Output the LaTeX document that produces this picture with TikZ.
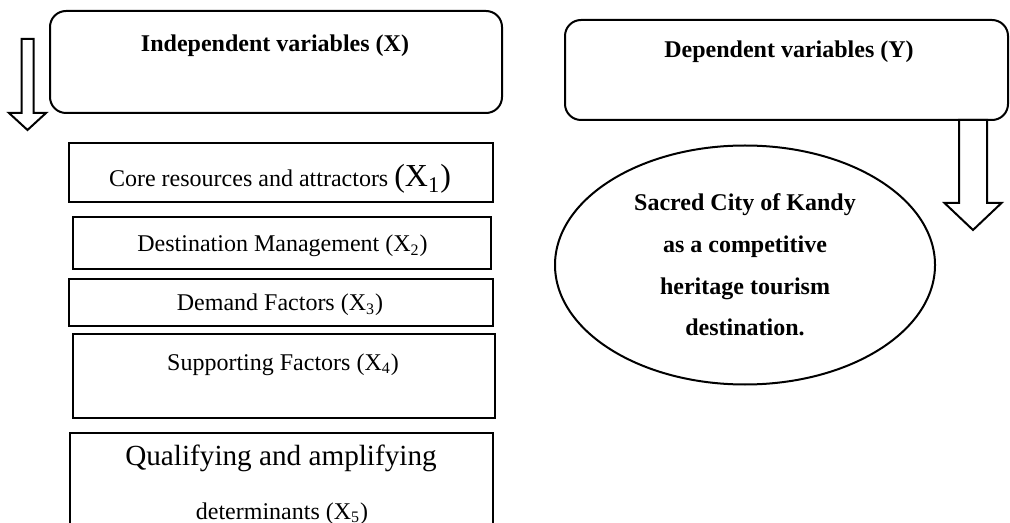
\documentclass[tikz,border=0pt]{standalone}
\usepackage{fontspec}
\setmainfont{Liberation Serif}
\usetikzlibrary{shapes.geometric}

\tikzset{
  varbox/.style={draw, rounded corners=8pt, line width=1pt},
  factor/.style={draw, line width=1pt},
  blockarrow/.style={draw, line width=1pt, line join=miter},
  txt/.style={anchor=base, inner sep=0pt, font=\fontsize{12}{14.4}\selectfont},
  bold/.style={txt, font=\fontsize{12}{14.4}\selectfont\bfseries}
}

\begin{document}
\begin{tikzpicture}[x=0.5pt, y=-0.5pt]
  \useasboundingbox (0,0) rectangle (1010,523);

  % headings
  \node [varbox, minimum width=226pt, minimum height=51pt] (indep) at (276,62) {};
  \node [bold] (indeptext) at (275,52) {Independent variables (X)};
  \node [varbox, minimum width=221.5pt, minimum height=50pt] (dep) at (786.5,70) {};
  \node [bold] (deptext) at (789,58) {Dependent variables (Y)};

  % block arrows
  \path [blockarrow] (21.5,39) -- (21.5,113) -- (9,113) -- (27.5,130) -- (46,113) -- (33.5,113) -- (33.5,39) -- cycle;
  \path [blockarrow] (959,120) -- (959,203) -- (944.5,203) -- (973,230) -- (1001.5,203) -- (987,203) -- (987,120) -- cycle;

  % determinants
  \node [factor, minimum width=212pt, minimum height=29.5pt] (core) at (281,172.5) {};
  \node [txt] (coretext) at (280,187) {Core resources and attractors {\fontsize{16}{19}\selectfont(X\textsubscript{1})}};
  \node [factor, minimum width=209pt, minimum height=26pt] (manage) at (282,243) {};
  \node [txt] (managetext) at (282.5,252) {Destination Management (X\textsubscript{2})};
  \node [factor, minimum width=212pt, minimum height=23.5pt] (demand) at (281,302.5) {};
  \node [txt] (demandtext) at (280,311) {Demand Factors (X\textsubscript{3})};
  \node [factor, minimum width=211pt, minimum height=42pt] (support) at (284,376) {};
  \node [txt] (supporttext) at (283,370) {Supporting Factors (X\textsubscript{4})};
  \node [factor, minimum width=211.5pt, minimum height=53.5pt] (qualify) at (281.5,486.5) {};
  \node [txt, font=\fontsize{14.6}{17.5}\selectfont] (qualifytext) at (281,465) {Qualifying and amplifying};
  \node [txt] (qualifytext2) at (282,519) {determinants (X\textsubscript{5})};

  % outcome
  \node [draw, ellipse, line width=1pt, minimum width=190pt, minimum height=119.5pt, align=center,
         font=\fontsize{12}{20.8}\selectfont\bfseries] (kandy) at (745,265)
        {Sacred City of Kandy\\as a competitive\\heritage tourism\\destination.};
\end{tikzpicture}
\end{document}
